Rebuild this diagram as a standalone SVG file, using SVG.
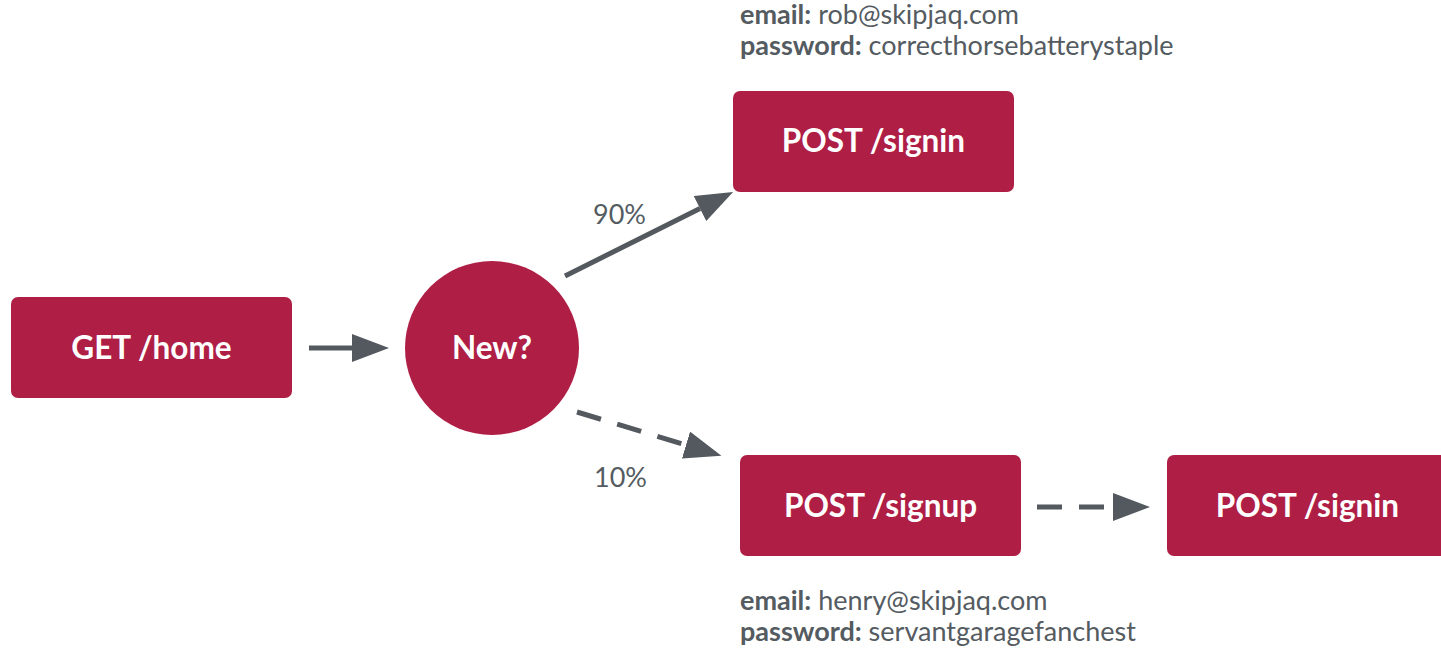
<svg xmlns="http://www.w3.org/2000/svg" width="1441" height="649" viewBox="0 0 1441 649">
<defs>
<style>
.box{fill:#AE1E45;}
.lbl{font-family:Lato,"Liberation Sans",sans-serif;font-weight:700;font-size:31.5px;fill:#fff;text-anchor:middle;dominant-baseline:central;}
.note{font-family:Lato,"Liberation Sans",sans-serif;font-size:27px;fill:#545B61;}
.note tspan.b{font-weight:700;}
.edge{stroke:#53595F;stroke-width:5;fill:none;marker-end:url(#ah);}
.dash{stroke-dasharray:25 17;}
</style>
<marker id="ah" markerUnits="userSpaceOnUse" markerWidth="38" markerHeight="28" refX="0" refY="14" orient="auto">
<path d="M0,0 L37,14 L0,28 z" fill="#53595F"/>
</marker>
</defs>
<rect width="1441" height="649" fill="#fff"/>
<g id="connectors">
<line class="edge" x1="309" y1="348" x2="352" y2="348"/>
<line class="edge" x1="565" y1="276" x2="700" y2="208.5"/>
<line class="edge dash" x1="577" y1="412" x2="686" y2="445"/>
<line class="edge dash" x1="1037" y1="507" x2="1113" y2="507"/>
<text class="note" x="593" y="224">90%</text>
<text class="note" x="594" y="487">10%</text>
</g>
<g id="get-home">
<rect class="box" x="11" y="297" width="281" height="101" rx="7"/>
<text class="lbl" x="151.5" y="347">GET /home</text>
</g>
<g id="new">
<circle class="box" cx="492" cy="348" r="87"/>
<text class="lbl" x="492" y="347">New?</text>
</g>
<g id="post-signin-1">
<rect class="box" x="733" y="91" width="281" height="101" rx="7"/>
<text class="lbl" x="873.5" y="140">POST /signin</text>
</g>
<g id="post-signup">
<rect class="box" x="740" y="455" width="281" height="101" rx="7"/>
<text class="lbl" x="880.5" y="505">POST /signup</text>
</g>
<g id="post-signin-2">
<rect class="box" x="1167" y="455" width="281" height="101" rx="7"/>
<text class="lbl" x="1307.5" y="505">POST /signin</text>
</g>
<g id="creds-1">
<text class="note" x="740" y="24"><tspan class="b">email:</tspan> rob@skipjaq.com</text>
<text class="note" x="740" y="55"><tspan class="b">password:</tspan> correcthorsebatterystaple</text>
</g>
<g id="creds-2">
<text class="note" x="740" y="610"><tspan class="b">email:</tspan> henry@skipjaq.com</text>
<text class="note" x="740" y="641"><tspan class="b">password:</tspan> servantgaragefanchest</text>
</g>
</svg>
